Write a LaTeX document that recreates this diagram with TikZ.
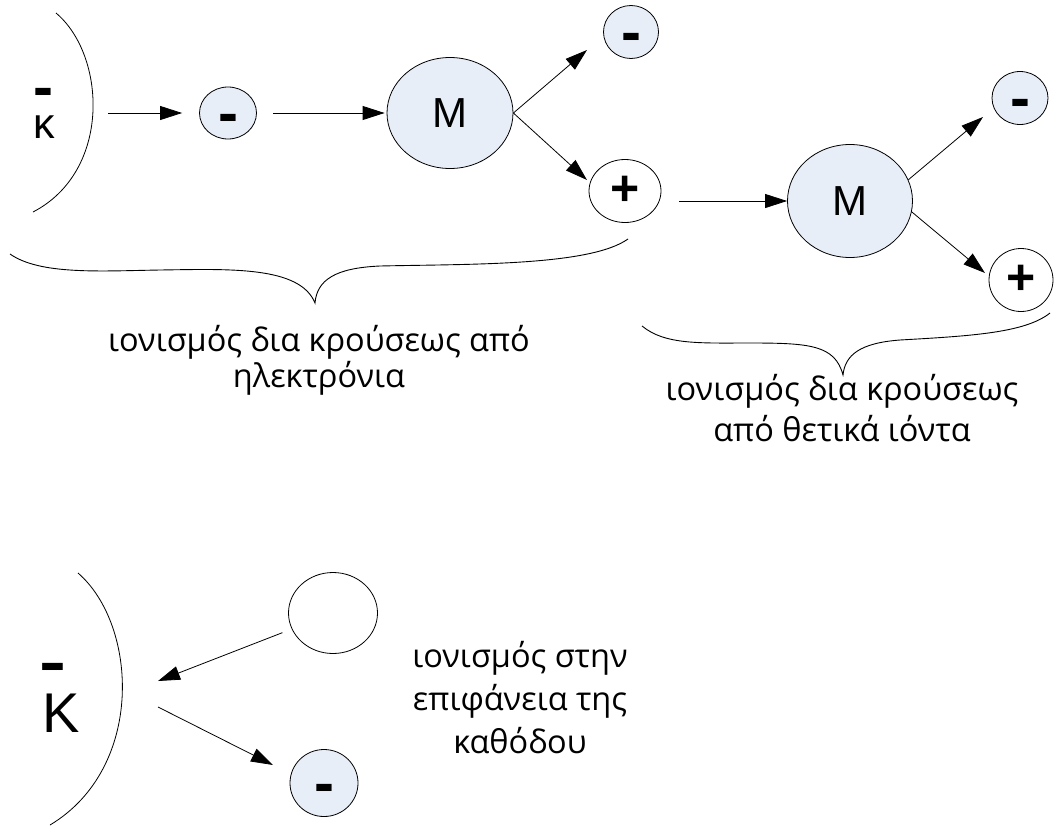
\documentclass[tikz,border=0pt]{standalone}
\usepackage{fontspec}
\setmainfont{Open Sans}
\newfontfamily\signfont{Liberation Sans}
\usetikzlibrary{shapes.geometric,arrows.meta}
\definecolor{ionfill}{RGB}{232,238,247}

\tikzset{
  particle/.style={ellipse, draw, line width=0.8pt, inner sep=0pt},
  charged/.style={particle, fill=ionfill},
  neutral/.style={particle, fill=white},
  sign/.style={font=\signfont\bfseries\fontsize{60}{60}\selectfont, inner sep=0pt, yshift=-10.5pt},
  plussign/.style={font=\signfont\bfseries\fontsize{50}{50}\selectfont, inner sep=0pt},
  atomlabel/.style={font=\signfont\fontsize{42}{42}\selectfont, inner sep=0pt},
  flow/.style={line width=0.8pt, -{Triangle[length=22pt,width=14pt]}},
  electrode/.style={line width=0.8pt},
  brace/.style={line width=0.9pt},
  caption/.style={align=center, inner sep=0pt, anchor=base}
}

\begin{document}
\begin{tikzpicture}[x=1pt,y=-1pt]
\useasboundingbox (0,0) rectangle (1055,825);

% ---- upper cathode ----
\draw[electrode] (56,13) .. controls (106,55) and (112,171) .. (33,212);
\node[sign] (kminus1) at (43,87) {-};
\node[font=\signfont\fontsize{43}{43}\selectfont, inner sep=0pt] (kappa) at (44,127) {κ};

% ---- electron impact ionisation ----
\coordinate (c1) at (108,113);
\node[charged, minimum width=57pt, minimum height=52pt] (e1) at (228,113) {};
\node[sign] (e1s) at (e1) {-};
\node[charged, minimum width=126pt, minimum height=111pt] (M1) at (450,113) {};
\node[atomlabel] (M1s) at (M1) {M};
\node[charged, minimum width=55pt, minimum height=53pt] (n1) at (631,32) {};
\node[sign] (n1s) at (n1) {-};
\node[neutral, minimum width=72pt, minimum height=63pt] (p1) at (625,191) {};
\node[plussign] (p1s) at (p1) {+};
\coordinate (t1) at (587,50);
\coordinate (t2) at (587,180);

\draw[flow, shorten >=17pt] (c1) -- (e1);
\draw[flow, shorten <=16.5pt, shorten >=2pt] (e1) -- (M1);
\draw[flow] (M1.east) -- (t1);
\draw[flow] (M1.east) -- (t2);

% ---- positive ion impact ionisation ----
\coordinate (s1) at (679,201);
\node[charged, minimum width=125pt, minimum height=113pt] (M2) at (850,201) {};
\node[atomlabel] (M2s) at (M2) {M};
\node[charged, minimum width=56pt, minimum height=53pt] (n2) at (1020,98) {};
\node[sign] (n2s) at (n2) {-};
\node[neutral, minimum width=64pt, minimum height=63pt] (p2) at (1021,280) {};
\node[plussign] (p2s) at (p2) {+};
\coordinate (t3) at (983,117);
\coordinate (t4) at (985,273);

\draw[flow] (s1) -- (M2.west);
\draw[flow] (M2.20) -- (t3);
\draw[flow] (M2.-10) -- (t4);

% ---- braces and captions (anchored at the last baseline) ----
\draw[brace] (10,254) .. controls (40,275) and (100,271) .. (160,270)
  .. controls (230,269) and (300,266) .. (315,303)
  .. controls (317,280) and (335,268) .. (380,266)
  .. controls (470,264) and (590,266) .. (628,239);
\node[caption, font=\fontsize{32.5}{36}\selectfont] (cap1) at (319,387)
  {ιονισμός δια κρούσεως από\\ηλεκτρόνια};

\draw[brace] (642,326) .. controls (665,345) and (700,343) .. (750,343)
  .. controls (810,343) and (835,345) .. (843,375)
  .. controls (845,355) and (860,343) .. (900,340)
  .. controls (970,336) and (1025,333) .. (1050,313);
\node[caption, font=\fontsize{32.5}{41}\selectfont] (cap2) at (842,441)
  {ιονισμός δια κρούσεως\\από θετικά ιόντα};

% ---- lower cathode: surface ionisation ----
\draw[electrode] (78,573) .. controls (138,625) and (145,768) .. (50,825);
\node[sign, xscale=1.35] (kminus2) at (53,662) {-};
\node[font=\signfont\fontsize{56}{56}\selectfont, inner sep=0pt] (K2) at (61,713) {K};

\node[neutral, minimum width=89pt, minimum height=81pt] (a) at (333,613) {};
\node[charged, minimum width=68pt, minimum height=67pt] (e3) at (324,783) {};
\node[sign] (e3s) at (e3) {-};
\coordinate (t5) at (158,681);
\coordinate (s6) at (158,707);
\coordinate (t6) at (273,765);

\draw[flow, shorten <=10pt] (a) -- (t5);
\draw[flow] (s6) -- (t6);

\node[caption, font=\fontsize{32.5}{43}\selectfont] (cap3) at (520,753)
  {ιονισμός στην\\επιφάνεια της\\καθόδου};
\end{tikzpicture}
\end{document}
